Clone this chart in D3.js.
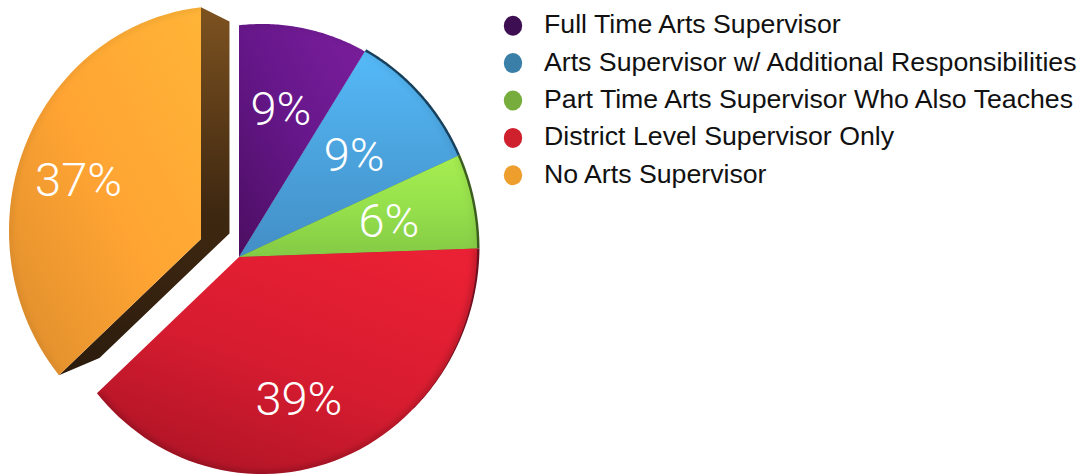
<!DOCTYPE html>
<html><head><meta charset="utf-8">
<script src="https://cdn.jsdelivr.net/npm/d3@7"></script>
<style>html,body{margin:0;padding:0;background:#fff}svg{display:block}</style></head>
<body><svg id="c" width="1078" height="474"></svg>
<script>
const categories = ["Full Time Arts Supervisor","Arts Supervisor w/ Additional Responsibilities","Part Time Arts Supervisor Who Also Teaches","District Level Supervisor Only","No Arts Supervisor"];
const percentLabels = [9,9,6,39,37];
const sliceShares = [8.75,9.36,6.33,38.4,37.16];
const legendColors = ["#3d0f52","#3a7fa8","#76ad3c","#cf202e","#ee9e2c"];
const gradTop = ["#7c1e9e","#55baf9","#a6ee50","#ea2034","#ffb437"];
const gradMid = ["#66178a","#4ba3dd","#96e04c","#d81c30","#ffa433"];
const gradBottom = ["#4c0e62","#438ec6","#84ca45","#ae1426","#dc8c2c"];
const gradDir = [[1,0,0,1],[.5,0,.5,1],[.5,0,.5,1],[.8,0,.2,1],[1,0,0,1]];
const rimColors = [null,"#17405c","#3c5e1e","#6e1020",null];
const exploded = [0,0,0,0,1];

const svg = d3.select("#c");
const defs = svg.append("defs");
const apex = {x:239,y:257}, ell = {cx:262,cy:249,rx:215,ry:225};
const explode = {x:-38,y:-18}, vanish = {x:536,y:173}, depth = .085;
const TAU = Math.PI*2;

function rad(a){
  const dx=Math.sin(a), dy=-Math.cos(a);
  const ox=(apex.x-ell.cx)/ell.rx, oy=(apex.y-ell.cy)/ell.ry;
  const ux=dx/ell.rx, uy=dy/ell.ry;
  const A=ux*ux+uy*uy, B=2*(ox*ux+oy*uy), C=ox*ox+oy*oy-1;
  return (-B+Math.sqrt(B*B-4*A*C))/(2*A);
}
const arcs = d3.pie().sort(null).startAngle(0).endAngle(TAU)(sliceShares);
const samples = d => d3.range(0,61).map(i=>d.startAngle+(d.endAngle-d.startAngle)*i/60);
const radial = d3.lineRadial().angle(a=>a).radius(a=>rad(a));
const sector = d => "M0,0L"+radial(samples(d)).slice(1)+"Z";
const rimArc = d => radial(samples(d));
// the thin rim narrows to nothing along the red slice
const rimSector = d => {
  const t0=d.startAngle, span=d.index===3?.75:d.endAngle-d.startAngle;
  const taper=a=>d.index===3?2.5*(1-(a-t0)/span):2.5;
  const pts=d3.range(0,61).map(i=>t0+span*i/60);
  return "M0,0L"+d3.lineRadial().angle(a=>a).radius(a=>rad(a)+taper(a))(pts).slice(1)+"Z";
};

const blur = defs.append("filter").attr("id","soft").attr("x","-20%").attr("y","-20%").attr("width","140%").attr("height","140%");
blur.append("feGaussianBlur").attr("stdDeviation",3);

arcs.forEach((d,i)=>{
  const g=defs.append("linearGradient").attr("id","g"+i)
    .attr("x1",gradDir[i][0]).attr("y1",gradDir[i][1]).attr("x2",gradDir[i][2]).attr("y2",gradDir[i][3]);
  g.append("stop").attr("offset",0).attr("stop-color",gradTop[i]);
  g.append("stop").attr("offset",.5).attr("stop-color",gradMid[i]);
  g.append("stop").attr("offset",1).attr("stop-color",gradBottom[i]);
  defs.append("clipPath").attr("id","clip"+i).append("path").attr("d",sector(d));
});
const wall=defs.append("linearGradient").attr("id","wall").attr("x1",0).attr("y1",0).attr("x2",0).attr("y2",1);
wall.append("stop").attr("offset",0).attr("stop-color","#7d5220");
wall.append("stop").attr("offset",.55).attr("stop-color","#3f2811");
wall.append("stop").attr("offset",1).attr("stop-color","#2c1c0d");

const pie = svg.append("g").attr("transform",`translate(${apex.x},${apex.y})`);
pie.selectAll("path.rim").data(arcs.filter(d=>rimColors[d.index]))
  .join("path").attr("class","rim")
  .attr("d",rimSector)
  .attr("fill",d=>rimColors[d.index]);

const ex = svg.append("g");
arcs.filter(d=>exploded[d.index]).forEach(d=>{
  const pt=a=>{const r=rad(a);return [apex.x+explode.x+r*Math.sin(a),apex.y+explode.y-r*Math.cos(a)]};
  const c=[apex.x+explode.x,apex.y+explode.y], s=pt(d.startAngle), e=pt(d.endAngle);
  const back=p=>[p[0]+(vanish.x-p[0])*depth,p[1]+(vanish.y-p[1])*depth];
  ex.append("path").attr("fill","url(#wall)").attr("d",d3.line()([s,back(s),back(c),back(e),e,c])+"Z");
});

const slice = svg.selectAll("g.slice").data(arcs).join("g").attr("class","slice")
  .attr("transform",d=>`translate(${apex.x+exploded[d.index]*explode.x},${apex.y+exploded[d.index]*explode.y})`);
slice.append("path").attr("d",sector).attr("fill",d=>`url(#g${d.index})`);
slice.append("g").attr("clip-path",d=>`url(#clip${d.index})`)
  .append("path").attr("d",rimArc).attr("fill","none").attr("stroke","#000")
  .attr("stroke-opacity",d=>d.index===3?.25:.08).attr("stroke-width",5).attr("filter","url(#soft)");

const labelR = d=>exploded[d.index]?136:154;
const labelA = d=>d.startAngle+(d.endAngle-d.startAngle)*(exploded[d.index]?.52:.5);
slice.append("text").attr("text-anchor","middle")
  .attr("x",d=>labelR(d)*Math.sin(labelA(d)))
  .attr("y",d=>-labelR(d)*Math.cos(labelA(d))+16)
  .attr("fill","#fff").attr("font-family","Roboto, 'Liberation Sans', sans-serif").attr("font-weight",300).attr("font-size",47)
  .text(d=>percentLabels[d.index]+"%");

const rows = d3.scalePoint().domain(categories).range([25.7,175.3]);
const leg = svg.selectAll("g.leg").data(categories).join("g").attr("class","leg").attr("transform",d=>`translate(0,${rows(d)})`);
leg.append("ellipse").attr("cx",513).attr("rx",9.2).attr("ry",10).attr("fill",(d,i)=>legendColors[i]);
leg.append("text").attr("x",544).attr("y",7.5).attr("fill","#111")
  .attr("font-family","'Liberation Sans', Arial, sans-serif").attr("font-size",26.7).text(d=>d);
</script></body></html>
